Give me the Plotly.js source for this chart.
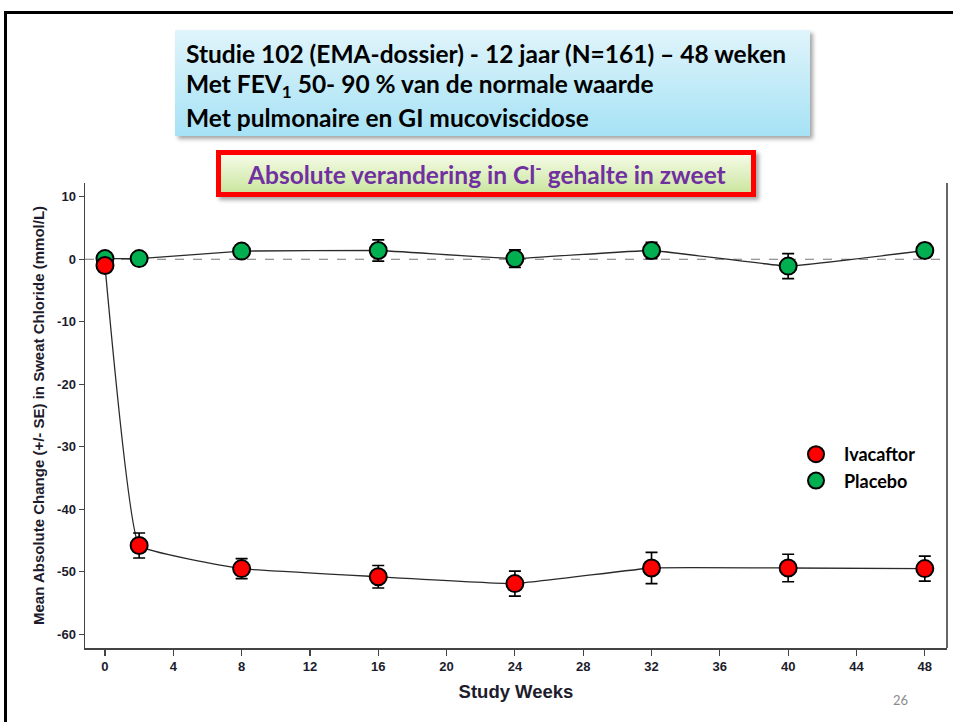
<!DOCTYPE html>
<html><head><meta charset="utf-8">
<script src="https://cdn.plot.ly/plotly-3.0.1.min.js"></script>
<style>
html,body{margin:0;padding:0;background:#fff;width:953px;height:722px;overflow:hidden;}
#frame{position:absolute;left:4px;top:11px;width:960px;height:720px;border-top:3px solid #000;border-left:3px solid #000;}
#blue{position:absolute;left:175px;top:30px;width:635px;height:106px;background:linear-gradient(#e0f4fb,#a6e2f5);box-shadow:3px 3px 4px rgba(0,0,0,0.35);}
#red{position:absolute;left:216px;top:150px;width:530px;height:37px;border:5px solid #ff0000;background:linear-gradient(#f5fbe6,#cbe6a0);box-shadow:3px 3px 4px rgba(0,0,0,0.35);}
#chart{position:absolute;left:0;top:0;width:953px;height:722px;}
</style></head>
<body>
<div id="frame"></div>
<div id="blue"></div>
<div id="red"></div>
<div id="chart"></div>
<script>
// ---- data ----
const weeks = [0, 2, 8, 16, 24, 32, 40, 48];
const ivacaftor = [-1.0, -45.8, -49.5, -50.8, -51.9, -49.4, -49.4, -49.5];
const ivacaftorSE = [0, 2.0, 1.6, 1.8, 2.0, 2.5, 2.2, 2.0];
const placebo = [0.1, 0.1, 1.3, 1.4, 0.1, 1.4, -1.1, 1.4];
const placeboSE = [0, 0.8, 1.0, 1.7, 1.4, 1.3, 2.0, 1.1];
const xTicks = [0, 4, 8, 12, 16, 20, 24, 28, 32, 36, 40, 44, 48];
const yTicks = [10, 0, -10, -20, -30, -40, -50, -60];
const yTickText = ['10', '0', '-10', '-20', '-30', '-40', '-50', '-60'];
const seriesNames = ['Ivacaftor', 'Placebo'];
const titleLines = [
  'Studie 102 (EMA-dossier) - 12 jaar (N=161) \u2013 48 weken',
  'Met FEV<sub>1</sub> 50- 90 % van de normale waarde',
  'Met pulmonaire en GI mucoviscidose'
];
const subTitle = 'Absolute verandering in Cl<sup>-</sup> gehalte in zweet';
const xTitle = 'Study Weeks';
const yTitle = 'Mean Absolute Change (+/- SE) in Sweat Chloride (mmol/L)';
const pageNumber = '26';

// ---- layout helpers (pixel -> paper) ----
const L = 85, R = 947, T = 183, B = 648;
const px = p => (p - L) / (R - L);
const py = p => (B - p) / (B - T);

const lineStyle = {color: '#2a2a2a', width: 1.3, shape: 'spline', smoothing: 0.25};
const errStyle = (arr) => ({type: 'data', array: arr, visible: true, color: '#000', thickness: 1.6, width: 6});

const traces = [
  {x: weeks, y: placebo, mode: 'lines', line: lineStyle, showlegend: false, hoverinfo: 'skip'},
  {x: weeks, y: ivacaftor, mode: 'lines', line: lineStyle, showlegend: false, hoverinfo: 'skip'},
  {x: weeks, y: placebo, mode: 'markers', name: seriesNames[1], legendrank: 2,
   error_y: errStyle(placeboSE),
   marker: {color: '#00b050', size: 17, line: {color: '#000', width: 2}}},
  {x: weeks, y: ivacaftor, mode: 'markers', name: seriesNames[0], legendrank: 1,
   error_y: errStyle(ivacaftorSE),
   marker: {color: '#ff0000', size: 17, line: {color: '#000', width: 2}}}
];

const axFont = {family: 'Liberation Sans, Arial, sans-serif', size: 13, color: '#1c1c2c', weight: 'bold'};

const annotations = titleLines.map((t, i) => ({
  text: t, xref: 'paper', yref: 'paper', x: px(184), y: py(53 + 32 * i),
  xanchor: 'left', yanchor: 'middle', showarrow: false,
  font: {family: 'Lato, sans-serif', size: 24.5, color: '#000', weight: 'bold'}
}));
annotations.push({
  text: subTitle, xref: 'paper', yref: 'paper', x: px(486), y: py(173),
  xanchor: 'center', yanchor: 'middle', showarrow: false,
  font: {family: 'Lato, sans-serif', size: 24.5, color: '#7030a0', weight: 'bold'}
});
annotations.push({
  text: pageNumber, xref: 'paper', yref: 'paper', x: px(900), y: py(700),
  xanchor: 'center', yanchor: 'middle', showarrow: false,
  font: {family: 'Lato, sans-serif', size: 13, color: '#8a8a8a'}
});

const layout = {
  width: 953, height: 722,
  margin: {l: L, r: 953 - R, t: T, b: 722 - B, pad: 0},
  paper_bgcolor: 'rgba(0,0,0,0)', plot_bgcolor: 'rgba(0,0,0,0)',
  showlegend: true,
  legend: {x: px(788), y: py(436), xanchor: 'left', yanchor: 'top',
    bgcolor: 'rgba(0,0,0,0)', itemsizing: 'trace', itemwidth: 46, tracegroupgap: 0,
    font: {family: 'Lato, sans-serif', size: 18, color: '#000', weight: 'bold'}},
  xaxis: {
    range: [-1.17, 49.3], tickvals: xTicks, showgrid: false, zeroline: false,
    showline: true, linecolor: '#444', linewidth: 1.5,
    ticks: 'outside', ticklen: 6, tickcolor: '#444', tickwidth: 1.2,
    tickfont: axFont,
    title: {text: xTitle, standoff: 12, font: {family: 'Liberation Sans, Arial, sans-serif', size: 18.5, color: '#1c1c2c', weight: 'bold'}}
  },
  yaxis: {
    range: [-62.2, 12.2], tickvals: yTicks, ticktext: yTickText, showgrid: false, zeroline: false,
    showline: true, linecolor: '#444', linewidth: 1.5,
    ticks: 'outside', ticklen: 5, tickcolor: '#444', tickwidth: 1.2,
    tickfont: axFont,
    title: {text: yTitle, standoff: 9, font: {family: 'Liberation Sans, Arial, sans-serif', size: 15, color: '#1c1c2c', weight: 'bold'}}
  },
  shapes: [
    {type: 'line', xref: 'paper', yref: 'y', x0: 0, x1: 1, y0: 0, y1: 0, layer: 'below',
     line: {color: '#777', width: 1, dash: 'dash'}},
    {type: 'line', xref: 'paper', yref: 'paper', x0: 1, x1: 1, y0: 0, y1: 1,
     line: {color: '#333', width: 1.5}}
  ],
  annotations: annotations
};

Plotly.newPlot('chart', traces, layout, {displayModeBar: false, staticPlot: true});
</script>
</body></html>
